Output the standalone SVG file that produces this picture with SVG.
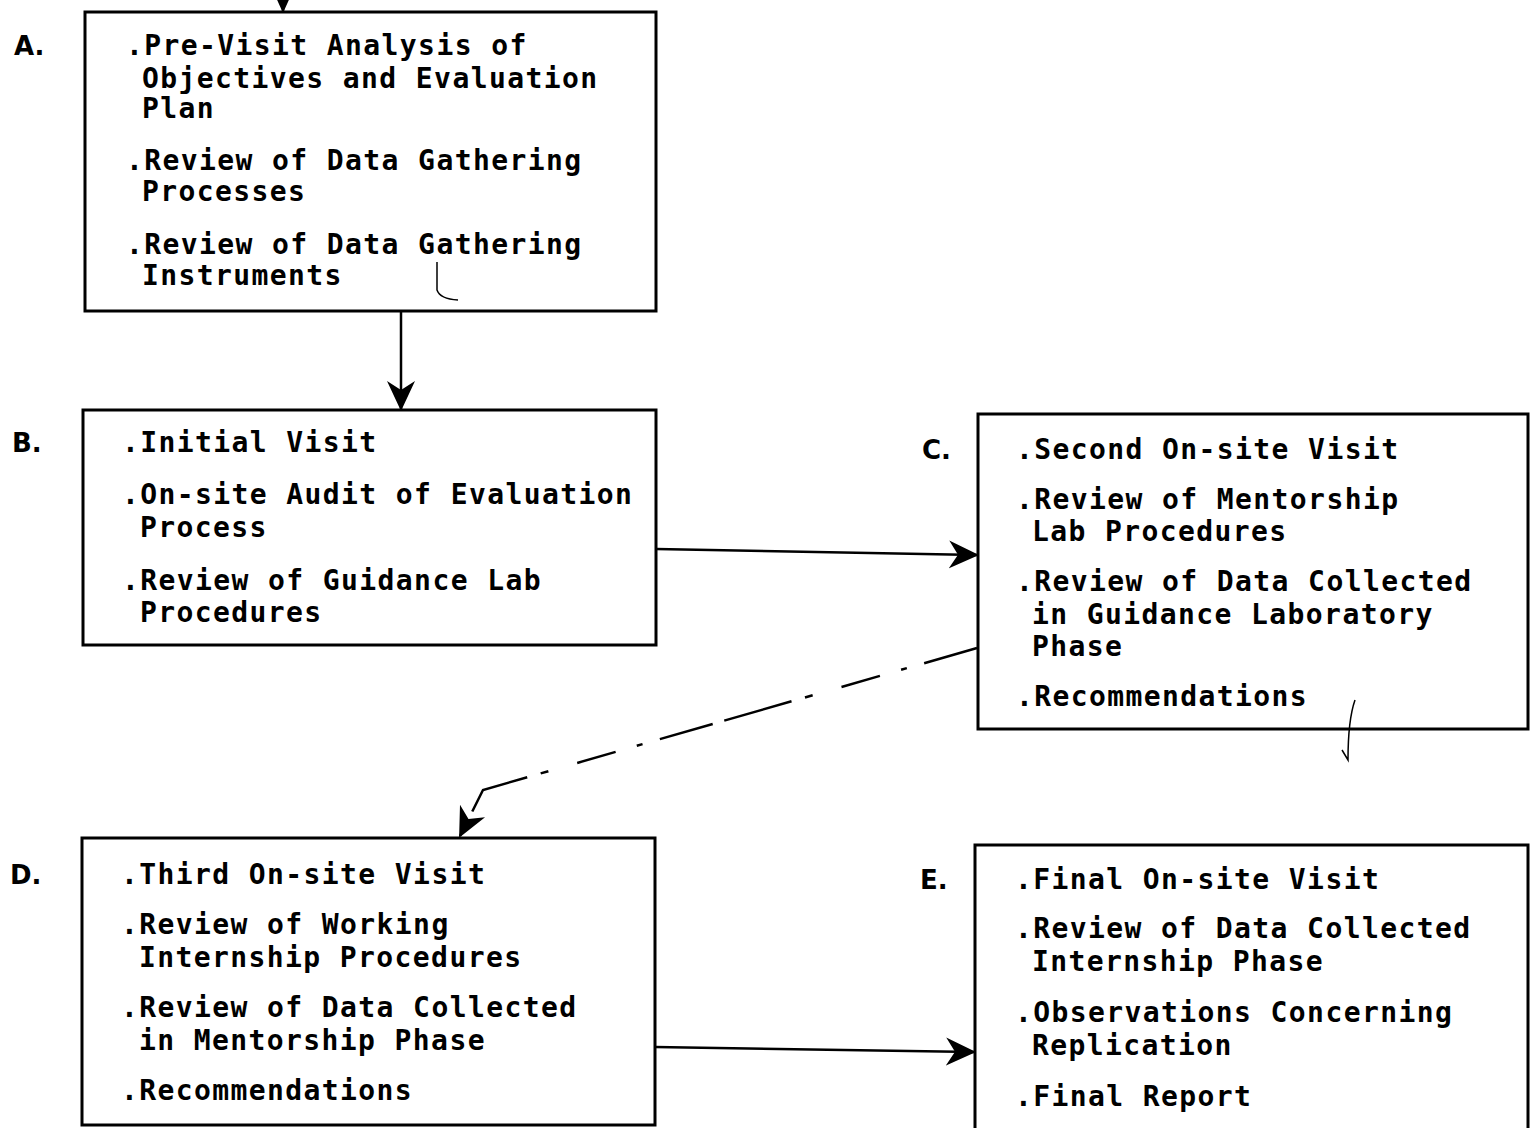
<svg xmlns="http://www.w3.org/2000/svg" width="1532" height="1128" viewBox="0 0 1532 1128">
  <style>
    .box { fill: #fff; stroke: #000; stroke-width: 3; }
    .t { font-family: "DejaVu Sans Mono", "Liberation Mono", monospace; font-size: 28px; letter-spacing: 1.4px; font-weight: bold; fill: #000; }
    .lbl { font-family: "DejaVu Sans", "Liberation Sans", sans-serif; font-size: 26px; font-weight: bold; fill: #000; }
    .edge { fill: none; stroke: #000; stroke-width: 2.5; }
    .mark { fill: none; stroke: #000; stroke-width: 1.5; }
  </style>
  <defs>
    <marker id="head" viewBox="0 0 20 20" refX="18" refY="10" markerWidth="20" markerHeight="20" markerUnits="userSpaceOnUse" orient="auto">
      <path d="M0,1 L20,10 L0,19 L6,10 Z" fill="#000"/>
    </marker>
    <marker id="headL" viewBox="0 0 30 30" refX="28" refY="15" markerWidth="30" markerHeight="30" markerUnits="userSpaceOnUse" orient="auto">
      <path d="M0,1 L30,15 L0,29 L9,15 Z" fill="#000"/>
    </marker>
  </defs>
  <rect width="1532" height="1128" fill="#fff"/>

  <g id="connectors">
    <line class="edge" x1="283" y1="-10" x2="283" y2="11" marker-end="url(#head)"/>
    <line class="edge" x1="401" y1="311" x2="401" y2="409" marker-end="url(#headL)"/>
    <line class="edge" x1="656" y1="549" x2="977" y2="555" marker-end="url(#headL)"/>
    <path class="edge" d="M977,648 L483,790 L460,836" stroke-dasharray="55 18 6 22 40 30 8 14 70 12" marker-end="url(#headL)"/>
    <line class="edge" x1="655" y1="1047" x2="974" y2="1052" marker-end="url(#headL)"/>
  </g>

  <g id="node-a">
    <rect class="box" x="85" y="12" width="571" height="299"/>
    <text class="lbl" x="14" y="55">A.</text>
    <text class="t" x="126" y="55">.Pre-Visit Analysis of</text>
    <text class="t" x="142" y="88">Objectives and Evaluation</text>
    <text class="t" x="142" y="118">Plan</text>
    <text class="t" x="126" y="170">.Review of Data Gathering</text>
    <text class="t" x="142" y="201">Processes</text>
    <text class="t" x="126" y="254">.Review of Data Gathering</text>
    <text class="t" x="142" y="285">Instruments</text>
    <path class="mark" d="M437,262 L437,290 Q440,299 458,300"/>
  </g>

  <g id="node-b">
    <rect class="box" x="83" y="410" width="573" height="235"/>
    <text class="lbl" x="12" y="452">B.</text>
    <text class="t" x="122" y="452">.Initial Visit</text>
    <text class="t" x="122" y="504">.On-site Audit of Evaluation</text>
    <text class="t" x="140" y="537">Process</text>
    <text class="t" x="122" y="590">.Review of Guidance Lab</text>
    <text class="t" x="140" y="622">Procedures</text>
  </g>

  <g id="node-c">
    <rect class="box" x="978" y="414" width="550" height="315"/>
    <text class="lbl" x="922" y="459">C.</text>
    <text class="t" x="1016" y="459">.Second On-site Visit</text>
    <text class="t" x="1016" y="509">.Review of Mentorship</text>
    <text class="t" x="1032" y="541">Lab Procedures</text>
    <text class="t" x="1016" y="591">.Review of Data Collected</text>
    <text class="t" x="1032" y="624">in Guidance Laboratory</text>
    <text class="t" x="1032" y="656">Phase</text>
    <text class="t" x="1016" y="706">.Recommendations</text>
    <path class="mark" d="M1355,700 Q1348,720 1348,760 L1342,750"/>
  </g>

  <g id="node-d">
    <rect class="box" x="82" y="838" width="573" height="287"/>
    <text class="lbl" x="10" y="884">D.</text>
    <text class="t" x="121" y="884">.Third On-site Visit</text>
    <text class="t" x="121" y="934">.Review of Working</text>
    <text class="t" x="139" y="967">Internship Procedures</text>
    <text class="t" x="121" y="1017">.Review of Data Collected</text>
    <text class="t" x="139" y="1050">in Mentorship Phase</text>
    <text class="t" x="121" y="1100">.Recommendations</text>
  </g>

  <g id="node-e">
    <rect class="box" x="975" y="845" width="553" height="290"/>
    <text class="lbl" x="920" y="889">E.</text>
    <text class="t" x="1015" y="889">.Final On-site Visit</text>
    <text class="t" x="1015" y="938">.Review of Data Collected</text>
    <text class="t" x="1032" y="971">Internship Phase</text>
    <text class="t" x="1015" y="1022">.Observations Concerning</text>
    <text class="t" x="1032" y="1055">Replication</text>
    <text class="t" x="1015" y="1106">.Final Report</text>
  </g>
</svg>
